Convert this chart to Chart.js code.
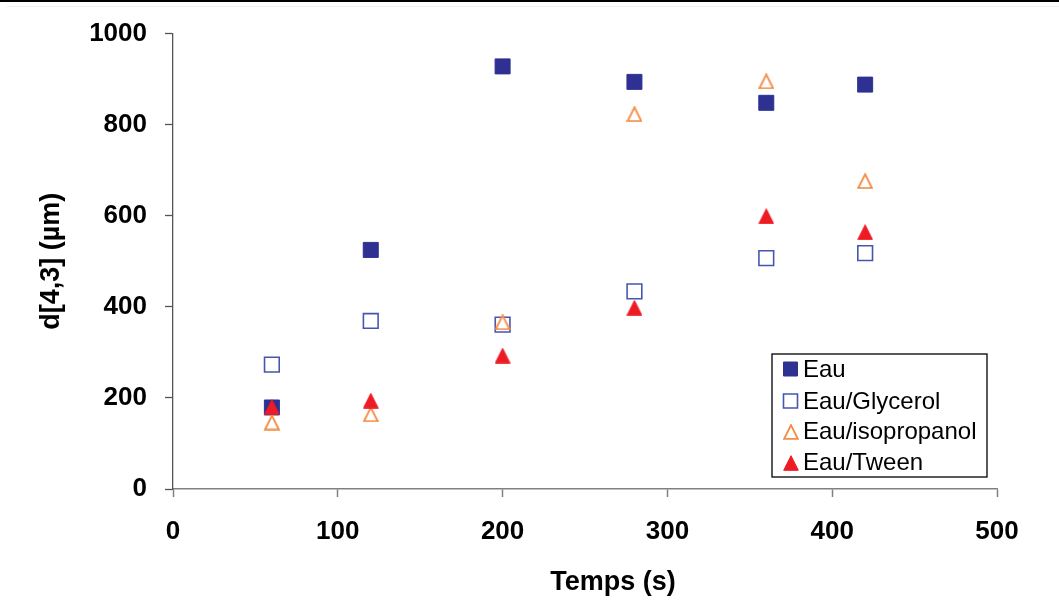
<!DOCTYPE html>
<html>
<head>
<meta charset="utf-8">
<script src="https://cdn.jsdelivr.net/npm/chart.js@4/dist/chart.umd.min.js"></script>
<style>
  html, body { margin: 0; padding: 0; background: #fff; }
  #wrap { position: relative; width: 1059px; height: 600px; }
  #topbar { position: absolute; left: 0; top: 0; width: 1059px; height: 2px; background: #000; }
  #topline { position: absolute; left: 7px; top: 6px; width: 1052px; height: 1px; background: #f0f0f0; }
  canvas { position: absolute; left: 0; top: 0; }
</style>
</head>
<body>
<div id="wrap">
  <canvas id="c" width="1059" height="600"></canvas>
  <div id="topbar"></div>
  <div id="topline"></div>
</div>
<script>
const times = [60, 120, 200, 280, 360, 420];
const eau = [179, 525, 928, 894, 848, 888];
const eauGlycerol = [273, 369, 361, 434, 507, 518];
const eauIsopropanol = [146, 164, 366, 823, 895, 676];
const eauTween = [180, 194, 293, 398, 599, 564];
const seriesLabels = ['Eau', 'Eau/Glycerol', 'Eau/isopropanol', 'Eau/Tween'];
const xTicks = [0, 100, 200, 300, 400, 500];
const yTicks = [0, 200, 400, 600, 800, 1000];
const xTitle = 'Temps (s)';
const yTitle = 'd[4,3] (µm)';

const NAVY = '#2E3192';
const BLUE_OPEN = '#4656AE';
const ORANGE = '#F58C45';
const RED = '#ED1C24';
const FONT = '"Liberation Sans", Arial, sans-serif';

function triMarker(size, fill, stroke, lw) {
  const c = document.createElement('canvas');
  c.width = size; c.height = size;
  const g = c.getContext('2d');
  const h = lw / 2 + 0.2;
  g.beginPath();
  g.moveTo(size / 2, h);
  g.lineTo(size - h, size - h);
  g.lineTo(h, size - h);
  g.closePath();
  g.fillStyle = fill; g.fill();
  g.strokeStyle = stroke; g.lineWidth = lw; g.lineJoin = 'miter'; g.stroke();
  return c;
}

function pts(vals) { return times.map((t, i) => ({ x: t, y: vals[i] })); }

const isoMarker = triMarker(16, '#ffffff', ORANGE, 1.9);
const tweenMarker = triMarker(16, RED, RED, 1);

const datasets = [
  { label: seriesLabels[0], data: pts(eau), pointStyle: 'rect', pointRadius: 10.6,
    backgroundColor: NAVY, borderColor: NAVY, borderWidth: 1, order: 4 },
  { label: seriesLabels[1], data: pts(eauGlycerol), pointStyle: 'rect', pointRadius: 10.4,
    backgroundColor: '#ffffff', borderColor: BLUE_OPEN, borderWidth: 1.6, order: 3 },
  { label: seriesLabels[2], data: pts(eauIsopropanol), pointStyle: isoMarker, pointRadius: 8,
    backgroundColor: '#ffffff', borderColor: ORANGE, borderWidth: 1.6, order: 2 },
  { label: seriesLabels[3], data: pts(eauTween), pointStyle: tweenMarker, pointRadius: 8,
    backgroundColor: RED, borderColor: RED, borderWidth: 1, order: 1 }
];
datasets.forEach(d => { d.pointHoverRadius = d.pointRadius; d.showLine = false; });

const legendPlugin = {
  id: 'boxLegend',
  afterDraw(chart) {
    const ctx = chart.ctx;
    ctx.save();
    // x axis title
    ctx.fillStyle = '#000';
    ctx.font = 'bold 27px ' + FONT;
    ctx.textAlign = 'center';
    ctx.textBaseline = 'middle';
    ctx.fillText(xTitle, 613, 583);
    // legend
    const bx = 772, by = 354, bw = 215, bh = 123;
    ctx.fillStyle = '#fff';
    ctx.fillRect(bx, by, bw, bh);
    ctx.strokeStyle = '#000';
    ctx.lineWidth = 1.3;
    ctx.strokeRect(bx, by, bw, bh);
    ctx.font = '24px ' + FONT;
    ctx.textBaseline = 'middle';
    ctx.textAlign = 'left';
    const ys = [369, 401, 431, 462];
    chart.data.datasets.forEach((d, i) => {
      const cx = 790.5, cy = ys[i];
      if (d.pointStyle === 'rect') {
        ctx.fillStyle = d.backgroundColor;
        ctx.strokeStyle = d.borderColor;
        ctx.lineWidth = d.borderWidth;
        ctx.beginPath();
        const s = 7;
        ctx.rect(cx - s, cy - s, 2 * s, 2 * s);
        ctx.fill();
        ctx.stroke();
      } else {
        const m = d.pointStyle;
        ctx.drawImage(m, Math.round(cx - m.width / 2), Math.round(cy - m.height / 2 + 1));
      }
      ctx.fillStyle = '#000';
      ctx.fillText(d.label, 803, cy + 1);
    });
    ctx.restore();
  }
};

new Chart(document.getElementById('c'), {
  type: 'scatter',
  data: { datasets },
  plugins: [legendPlugin],
  options: {
    responsive: false,
    animation: false,
    devicePixelRatio: 1,
    layout: { padding: { top: 32, right: 62, left: 0, bottom: 0 } },
    plugins: { legend: { display: false }, tooltip: { enabled: false } },
    scales: {
      x: {
        type: 'linear', min: 0, max: 500,
        afterBuildTicks(s) { s.ticks = xTicks.map(v => ({ value: v })); },
        afterFit(s) { s.height = 111; },
        grid: { display: true, drawOnChartArea: false, drawTicks: true, tickLength: 8, tickColor: '#808080', tickWidth: 1.5 },
        border: { display: true, color: '#808080', width: 1.5 },
        ticks: { color: '#000', padding: 19, maxRotation: 0, callback: v => String(v),
          font: { family: FONT, size: 26, weight: 'bold' } },
        title: { display: false }
      },
      y: {
        type: 'linear', min: 0, max: 1000,
        afterBuildTicks(s) { s.ticks = yTicks.map(v => ({ value: v })); },
        afterFit(s) { s.width = 173; },
        grid: { display: true, drawOnChartArea: false, drawTicks: true, tickLength: 8, tickColor: '#555', tickWidth: 1.3 },
        border: { display: true, color: '#555', width: 1.3 },
        ticks: { color: '#000', padding: 18, callback: v => String(v),
          font: { family: FONT, size: 26, weight: 'bold' } },
        title: { display: true, text: yTitle, color: '#000', padding: { top: 35, bottom: 0 },
          font: { family: FONT, size: 27, weight: 'bold' } }
      }
    }
  }
});
</script>
</body>
</html>
